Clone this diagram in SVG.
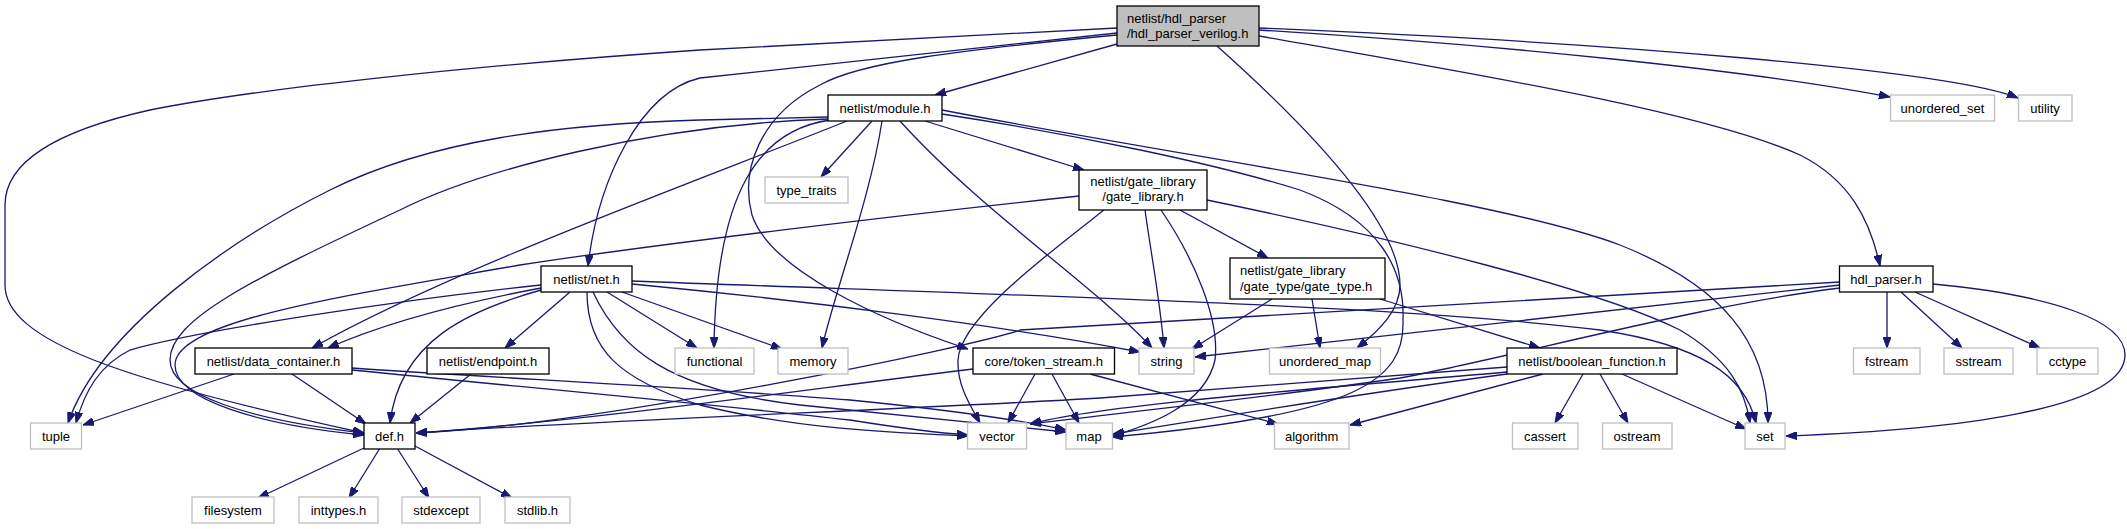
<svg xmlns="http://www.w3.org/2000/svg" width="2127" height="529" viewBox="0 0 2127 529">
<style>
.n rect{fill:#fff;stroke:#000;stroke-width:1.3}
.g rect{fill:#fff;stroke:#bfbfbf;stroke-width:1.3}
.r rect{fill:#bfbfbf;stroke:#000;stroke-width:1.3}
text{font-family:"Liberation Sans",Arial,sans-serif;font-size:13px;fill:#000}
.c{text-anchor:middle}
#edges path{fill:none;stroke:#191970;stroke-width:1.3;marker-end:url(#ah)}
</style>
<defs>
<marker id="ah" markerUnits="userSpaceOnUse" markerWidth="11" markerHeight="8" refX="11" refY="4" orient="auto" viewBox="0 0 11 8">
<path d="M0,0 L11,4 L0,8 z" fill="#191970" stroke="#191970" stroke-width="1"/>
</marker>
</defs>
<rect width="2127" height="529" fill="#fff"/>
<g id="edges">
<path d="M1117,28 L700,50 C480,65 260,88 150,110 C60,130 5,160 5,205 L5,285 C5,340 120,380 364,433"/>
<path d="M1117,44 L935,95"/>
<path d="M1117,33 L700,78 C640,92 598,180 588,266"/>
<path d="M1117,35 C960,50 860,62 820,85 C760,115 740,170 752,215 C770,270 880,320 968,349"/>
<path d="M1217,46 C1300,120 1400,220 1400,285 C1400,310 1380,330 1357,348"/>
<path d="M1259,36 C1450,70 1700,110 1800,155 C1850,180 1870,220 1880,266"/>
<path d="M1259,30 C1500,45 1750,70 1890,97"/>
<path d="M1259,28 C1600,42 1950,70 2018,98"/>
<path d="M828,117 L700,120 C560,124 430,140 330,190 C230,240 100,330 68,423"/>
<path d="M828,119 C650,125 480,170 400,210 C250,280 170,320 170,360 C170,395 250,420 364,433"/>
<path d="M847,121 C700,180 450,270 312,348"/>
<path d="M830,120 C760,130 716,190 714,348"/>
<path d="M872,121 L821,177"/>
<path d="M882,121 C870,200 835,290 822,348"/>
<path d="M900,121 C980,210 1100,290 1152,348"/>
<path d="M925,121 L1084,170"/>
<path d="M942,110 C1200,160 1500,200 1620,245 C1720,285 1768,340 1768,423"/>
<path d="M942,114 C1080,135 1220,165 1300,190 C1380,220 1405,270 1403,320 C1405,380 1360,415 1112,437"/>
<path d="M1079,196 C900,215 650,245 520,265 C350,295 175,320 175,365 C175,400 260,425 364,435"/>
<path d="M1104,210 C1040,260 960,320 958,360 C957,385 970,405 980,423"/>
<path d="M1145,210 C1152,260 1160,300 1164,348"/>
<path d="M1161,210 C1195,260 1220,320 1215,360 C1205,405 1150,425 1112,436"/>
<path d="M1180,210 L1268,258"/>
<path d="M1207,200 C1400,240 1600,290 1680,330 C1730,360 1745,390 1750,423"/>
<path d="M1272,299 L1192,349"/>
<path d="M1312,299 L1320,348"/>
<path d="M1380,299 L1540,348"/>
<path d="M541,285 C400,300 200,330 130,350 C100,365 85,390 76,423"/>
<path d="M541,288 C450,305 380,325 328,348"/>
<path d="M541,290 C470,310 400,340 390,423"/>
<path d="M570,292 L505,348"/>
<path d="M607,292 L697,348"/>
<path d="M622,292 L782,349"/>
<path d="M632,284 C800,300 1000,325 1140,352"/>
<path d="M632,281 C1000,295 1400,305 1600,330 C1700,345 1745,375 1756,423"/>
<path d="M587,292 C587,350 620,380 700,405 C800,430 900,433 968,436"/>
<path d="M593,292 C620,350 670,390 800,405 C900,415 1000,425 1066,432"/>
<path d="M234,374 L83,425"/>
<path d="M292,374 L366,424"/>
<path d="M352,368 C500,378 700,388 850,400 C950,410 1020,420 1066,430"/>
<path d="M352,370 C500,385 700,403 850,420 C900,428 940,433 968,435"/>
<path d="M471,374 L410,423"/>
<path d="M973,369 C800,390 600,420 416,433"/>
<path d="M1035,374 L1008,423"/>
<path d="M1052,374 L1079,423"/>
<path d="M1090,374 L1278,424"/>
<path d="M1507,367 L1100,398 C900,410 600,420 416,433"/>
<path d="M1507,372 C1300,390 1100,405 1030,424"/>
<path d="M1507,374 C1350,395 1200,420 1113,434"/>
<path d="M1543,374 L1350,425"/>
<path d="M1583,374 L1555,423"/>
<path d="M1600,374 L1628,423"/>
<path d="M1622,374 L1746,429"/>
<path d="M1887,292 L1887,348"/>
<path d="M1901,292 L1962,348"/>
<path d="M1915,292 L2040,348"/>
<path d="M1933,284 C2050,295 2125,320 2125,355 C2125,410 1950,430 1786,436"/>
<path d="M1840,282 L1020,330 C980,345 600,425 416,433"/>
<path d="M1840,285 L1195,357"/>
<path d="M1840,288 C1700,305 1500,360 1400,378 C1250,400 1100,415 1030,424"/>
<path d="M364,448 L258,498"/>
<path d="M380,448 L349,498"/>
<path d="M397,448 L429,498"/>
<path d="M415,446 L512,498"/>
</g>
<g id="root" class="r"><rect x="1117" y="6" width="142" height="40"/><text x="1127" y="23">netlist/hdl_parser</text><text x="1127" y="38">/hdl_parser_verilog.h</text></g>
<g id="module" class="n"><rect x="828" y="95" width="114" height="26"/><text class="c" x="885" y="112.5">netlist/module.h</text></g>
<g id="unordered_set" class="g"><rect x="1890.5" y="95" width="104" height="26"/><text class="c" x="1942.5" y="112.5">unordered_set</text></g>
<g id="utility" class="g"><rect x="2018.5" y="95" width="53.5" height="26"/><text class="c" x="2045" y="112.5">utility</text></g>
<g id="type_traits" class="g"><rect x="765" y="177" width="83" height="26"/><text class="c" x="806.5" y="194.5">type_traits</text></g>
<g id="gate_library" class="n"><rect x="1079" y="170" width="128" height="40"/><text class="c" x="1143" y="186">netlist/gate_library</text><text class="c" x="1143" y="201">/gate_library.h</text></g>
<g id="gate_type" class="n"><rect x="1230" y="258" width="155" height="41"/><text x="1240" y="275">netlist/gate_library</text><text x="1240" y="290.5">/gate_type/gate_type.h</text></g>
<g id="net" class="n"><rect x="541" y="266" width="91" height="26"/><text class="c" x="586.5" y="283.5">netlist/net.h</text></g>
<g id="hdl_parser" class="n"><rect x="1839.5" y="266" width="93.5" height="26"/><text class="c" x="1886" y="283.5">hdl_parser.h</text></g>
<g id="data_container" class="n"><rect x="195" y="348" width="157" height="26"/><text class="c" x="273.5" y="365.5">netlist/data_container.h</text></g>
<g id="endpoint" class="n"><rect x="427" y="348" width="122" height="26"/><text class="c" x="488" y="365.5">netlist/endpoint.h</text></g>
<g id="functional" class="g"><rect x="675" y="348" width="79" height="26"/><text class="c" x="714.5" y="365.5">functional</text></g>
<g id="memory" class="g"><rect x="778" y="348" width="70" height="26"/><text class="c" x="813" y="365.5">memory</text></g>
<g id="token_stream" class="n"><rect x="973" y="348" width="141.5" height="26"/><text class="c" x="1043.75" y="365.5">core/token_stream.h</text></g>
<g id="string" class="g"><rect x="1139" y="348" width="55" height="26"/><text class="c" x="1166.5" y="365.5">string</text></g>
<g id="unordered_map" class="g"><rect x="1269.5" y="348" width="111" height="26"/><text class="c" x="1325" y="365.5">unordered_map</text></g>
<g id="boolean_function" class="n"><rect x="1507" y="348" width="170" height="26"/><text class="c" x="1592" y="365.5">netlist/boolean_function.h</text></g>
<g id="fstream" class="g"><rect x="1853.5" y="348" width="66.5" height="26"/><text class="c" x="1886.7" y="365.5">fstream</text></g>
<g id="sstream" class="g"><rect x="1944" y="348" width="69" height="26"/><text class="c" x="1978.5" y="365.5">sstream</text></g>
<g id="cctype" class="g"><rect x="2037" y="348" width="61" height="26"/><text class="c" x="2067.5" y="365.5">cctype</text></g>
<g id="tuple" class="g"><rect x="30.5" y="423" width="51" height="26"/><text class="c" x="56" y="440.5">tuple</text></g>
<g id="def" class="n"><rect x="364" y="423" width="51" height="26"/><text class="c" x="389.5" y="440.5">def.h</text></g>
<g id="vector" class="g"><rect x="967.5" y="423" width="59" height="26"/><text class="c" x="997" y="440.5">vector</text></g>
<g id="map" class="g"><rect x="1066" y="423" width="46.5" height="26"/><text class="c" x="1089" y="440.5">map</text></g>
<g id="algorithm" class="g"><rect x="1274.5" y="423" width="74.5" height="26"/><text class="c" x="1311.7" y="440.5">algorithm</text></g>
<g id="cassert" class="g"><rect x="1512.5" y="423" width="65.5" height="26"/><text class="c" x="1545" y="440.5">cassert</text></g>
<g id="ostream" class="g"><rect x="1602.5" y="423" width="69.5" height="26"/><text class="c" x="1637" y="440.5">ostream</text></g>
<g id="set" class="g"><rect x="1745" y="423" width="40" height="26"/><text class="c" x="1765" y="440.5">set</text></g>
<g id="filesystem" class="g"><rect x="192" y="497" width="82" height="26"/><text class="c" x="233" y="514.5">filesystem</text></g>
<g id="inttypes" class="g"><rect x="299" y="497" width="79" height="26"/><text class="c" x="338.5" y="514.5">inttypes.h</text></g>
<g id="stdexcept" class="g"><rect x="402" y="497" width="78" height="26"/><text class="c" x="441" y="514.5">stdexcept</text></g>
<g id="stdlib" class="g"><rect x="505" y="497" width="65" height="26"/><text class="c" x="537.5" y="514.5">stdlib.h</text></g>
</svg>
